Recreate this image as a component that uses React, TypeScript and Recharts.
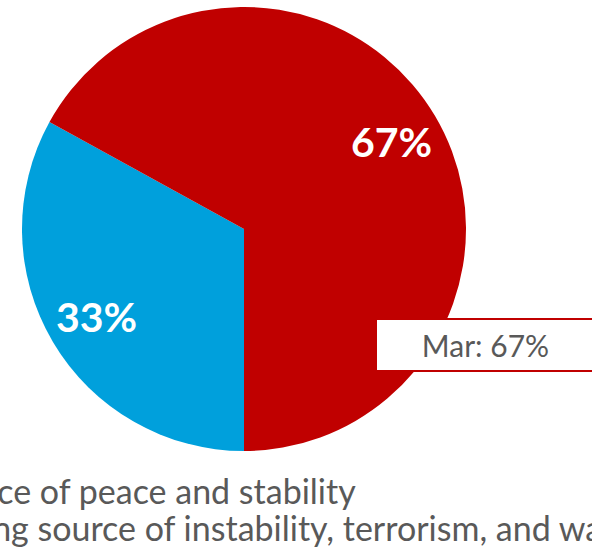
import React from "react";
import { PieChart, Pie, Cell, Legend, Tooltip } from "recharts";

// survey answers, one slice each
const categories = [
  "Source of peace and stability",
  "Growing source of instability, terrorism, and war",
];
const shares = [33, 67];
const sliceColors = ["#00A0DC", "#C00000"];
const seriesName = "Mar";

const data = categories.map((name, i) => ({ name, value: shares[i] }));

const FONT = "Lato, 'Open Sans', sans-serif";
const RAD = Math.PI / 180;
// how far each legend line sits off the left edge (the picture is cropped)
const legendIndent = [-97, -124];

function SliceLabel(props: any) {
  const { cx, cy, midAngle, outerRadius, value } = props;
  const r = outerRadius * 0.772;
  const x = cx + r * Math.cos(-midAngle * RAD);
  const y = cy + r * Math.sin(-midAngle * RAD);
  return (
    <text
      x={x}
      y={y}
      fill="#ffffff"
      textAnchor="middle"
      dominantBaseline="central"
      fontSize={41}
      fontWeight={700}
      fontFamily={FONT}
    >
      {value}%
    </text>
  );
}

function Callout({ active, payload }: any) {
  if (!active || !payload?.length) return null;
  return (
    <div
      style={{
        width: 217,
        height: 50,
        background: "#ffffff",
        border: "2px solid #C00000",
        display: "flex",
        alignItems: "center",
        justifyContent: "center",
        fontFamily: FONT,
        fontSize: 30,
        color: "#595959",
      }}
    >
      {seriesName}: {payload[0].value}%
    </div>
  );
}

// legend keeps the data order (blue first), whatever order the payload comes in
function LegendLines() {
  return (
    <div style={{ fontFamily: FONT, fontSize: 34, color: "#595959", lineHeight: "37px" }}>
      {categories.map((name, i) => (
        <div
          key={name}
          style={{ display: "flex", alignItems: "center", marginLeft: legendIndent[i], whiteSpace: "nowrap" }}
        >
          <span style={{ width: 16, height: 16, background: sliceColors[i], marginRight: 10, flex: "none" }} />
          <span>{name}</span>
        </div>
      ))}
    </div>
  );
}

export default function App() {
  return (
    <div
      style={{
        position: "absolute",
        left: 0,
        top: 0,
        width: 592,
        height: 548,
        overflow: "hidden",
        background: "#ffffff",
      }}
    >
      <PieChart width={592} height={548} margin={{ top: 0, right: 0, bottom: 0, left: 0 }}>
        <Pie
          data={data}
          dataKey="value"
          nameKey="name"
          cx={244}
          cy={229}
          outerRadius={222}
          startAngle={-90}
          endAngle={-450}
          stroke="none"
          label={SliceLabel}
          labelLine={false}
          isAnimationActive={false}
        >
          {data.map((d, i) => (
            <Cell key={d.name} fill={sliceColors[i]} />
          ))}
        </Pie>
        <Tooltip
          content={<Callout />}
          defaultIndex={1}
          active={true}
          position={{ x: 375, y: 318 }}
          allowEscapeViewBox={{ x: true, y: true }}
          cursor={false}
          isAnimationActive={false}
        />
        <Legend
          verticalAlign="bottom"
          content={<LegendLines />}
          wrapperStyle={{ left: 0, top: 472, width: 760, bottom: "auto" }}
        />
      </PieChart>
    </div>
  );
}
